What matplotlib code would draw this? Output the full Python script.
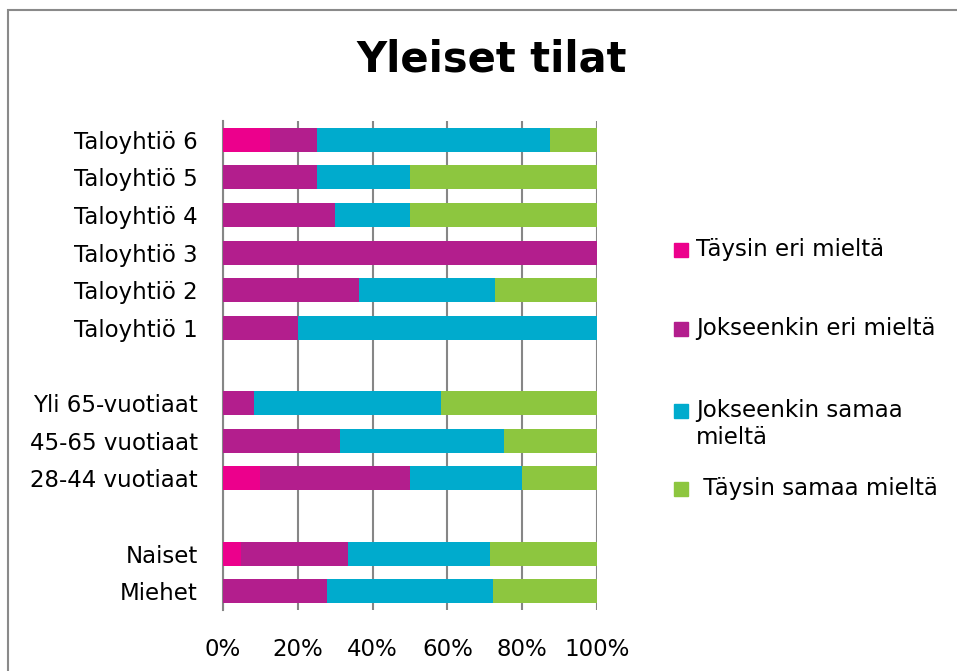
import numpy as np
import matplotlib.pyplot as plt
from matplotlib.patches import Rectangle

# -----------------------------
# Data (percent of respondents)
# -----------------------------
categories = ["Taloyhtiö 6", "Taloyhtiö 5", "Taloyhtiö 4", "Taloyhtiö 3",
              "Taloyhtiö 2", "Taloyhtiö 1", "",
              "Yli 65-vuotiaat", "45-65 vuotiaat", "28-44 vuotiaat", "",
              "Naiset", "Miehet"]

taysin_eri = [12.5, 0, 0, 0, 0, 0, 0, 0, 0, 10.0, 0, 4.76, 0]
jokseenkin_eri = [12.5, 25.0, 30.0, 100.0, 36.4, 20.0, 0, 8.33, 31.25, 40.0, 0, 28.57, 27.78]
jokseenkin_samaa = [62.5, 25.0, 20.0, 0, 36.4, 80.0, 0, 50.0, 43.75, 30.0, 0, 38.1, 44.44]
taysin_samaa = [12.5, 50.0, 50.0, 0, 27.2, 0, 0, 41.67, 25.0, 20.0, 0, 28.57, 27.78]

series_names = ["Täysin eri mieltä", "Jokseenkin eri mieltä",
                "Jokseenkin samaa\nmieltä", " Täysin samaa mieltä"]
series_colors = ["#EC008C", "#B31E8D", "#00ABCD", "#8DC63F"]

x_ticks = [0, 20, 40, 60, 80, 100]

# -----------------------------
# Figure
# -----------------------------
W, H = 957, 671
fig = plt.figure(figsize=(W / 100, H / 100), dpi=100)
ax = fig.add_axes([223 / W, 1 - 610 / H, (597 - 223) / W, (610 - 121) / H])

# outer chart border
fig.patches.append(Rectangle((8 / W, -0.1), 1.2, 1 - 10 / H + 0.1,
                             transform=fig.transFigure, fill=False,
                             edgecolor="#8a8a8a", linewidth=1.5))

y = np.arange(len(categories))
left = np.zeros(len(categories))
for vals, color in zip([taysin_eri, jokseenkin_eri, jokseenkin_samaa, taysin_samaa],
                       series_colors):
    vals = np.array(vals)
    ax.barh(y, vals, left=left, height=0.64, color=color, zorder=3)
    left += vals

ax.set_ylim(len(categories) - 0.5, -0.5)
ax.set_xlim(0, 100)
ax.set_yticks(y)
ax.set_yticklabels(categories, fontsize=16.5)
ax.set_xticks(x_ticks)
ax.set_xticklabels([f"{t}%" for t in x_ticks], fontsize=16.5)
ax.tick_params(axis="both", length=0)
ax.tick_params(axis="y", pad=18)
ax.tick_params(axis="x", pad=20)

ax.grid(axis="x", color="#868686", linewidth=1.5, zorder=0)
for s in ["top", "right", "bottom"]:
    ax.spines[s].set_visible(False)
ax.spines["left"].set_color("#868686")
ax.spines["left"].set_linewidth(1.5)

fig.text(492 / W, 1 - 60 / H, "Yleiset tilat", fontsize=30, fontweight="bold",
         ha="center", va="center")

# legend, laid out like the original (marker beside first line)
legend_y = [250, 329, 411, 489]
for name, color, ly in zip(series_names, series_colors, legend_y):
    fig.patches.append(Rectangle((674 / W, 1 - (ly + 7) / H), 14 / W, 14 / H,
                                 transform=fig.transFigure, color=color))
    for i, line in enumerate(name.split("\n")):
        fig.text(696 / W, 1 - (ly + 27 * i) / H, line, fontsize=16.5,
                 ha="left", va="center")

fig.savefig("out.png", dpi=100)
